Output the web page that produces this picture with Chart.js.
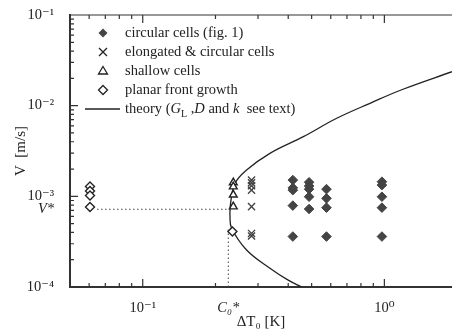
<!DOCTYPE html>
<html lang="en">
<head>
<meta charset="UTF-8">
<title>Stability V vs dT0</title>
<script src="https://cdn.jsdelivr.net/npm/chart.js"></script>
<style>
    body{margin:0;background:#fff;}
    .plot{position:relative;width:452px;height:334px;}
</style>
</head>
<body>
<div class="plot"><canvas id="stability" width="452" height="334"></canvas></div>
<script>
// (dT0 in K, V in m/s)
const circularDT = [0.418,0.418,0.418,0.418,0.418, 0.488,0.488,0.488,0.488,0.488, 0.576,0.576,0.576,0.576, 0.977,0.977,0.977,0.977,0.977];
const circularV  = [1.51e-3,1.24e-3,1.17e-3,7.9e-4,3.6e-4, 1.43e-3,1.3e-3,1.2e-3,9.9e-4,7.25e-4, 1.2e-3,9.5e-4,7.5e-4,3.6e-4, 1.45e-3,1.33e-3,9.9e-4,7.5e-4,3.6e-4];
const elongDT = [0.282,0.282,0.282,0.282,0.282,0.282,0.282];
const elongV  = [1.51e-3,1.41e-3,1.31e-3,1.17e-3,7.7e-4,3.9e-4,3.65e-4];
const shallowDT = [0.237,0.237,0.237,0.237];
const shallowV  = [1.42e-3,1.28e-3,1.04e-3,7.7e-4];
const planarDT = [0.0605,0.0605,0.0605,0.0605,0.235];
const planarV  = [1.285e-3,1.145e-3,1.02e-3,7.62e-4,4.1e-4];
const theoryDT = [1.905,1.194,0.872,0.635,0.462,0.336,0.269,0.241,0.231,0.2297,0.2333,0.269,0.336,0.400,0.455];
const theoryV  = [0.0237,0.01517,0.01062,0.00726,0.00455,0.00298,0.00195,0.00139,8.4e-4,5.96e-4,4.44e-4,2.56e-4,1.61e-4,1.19e-4,1.0e-4];

const Vstar = 7.2e-4;
const C0star = 0.226;
const xTickValues = [0.1, C0star, 1];
const xTickLabels = ['10\u207B\u00B9', 'C\u2080*', '10\u2070'];
const yTickValues = [1e-4, Vstar, 1e-3, 1e-2, 1e-1];
const yTickLabels = ['10\u207B\u2074', 'V*', '10\u207B\u00B3', '10\u207B\u00B2', '10\u207B\u00B9'];
const legendLabels = ['circular cells (fig. 1)', 'elongated & circular cells', 'shallow cells', 'planar front growth'];

const pts = (xs, ys) => xs.map((x, i) => ({x: x, y: ys[i]}));
const ink = '#222';
const serif = '"Liberation Serif", "DejaVu Serif", serif';

// inward log ticks + top frame
const logTicks = {
    id: 'logTicks',
    afterDatasetsDraw(chart) {
        const ctx = chart.ctx, a = chart.chartArea;
        const xs = chart.scales.x, ys = chart.scales.y;
        ctx.save();
        ctx.strokeStyle = '#333';
        ctx.lineWidth = 1.2;
        ctx.beginPath();
        ctx.moveTo(a.left, a.top); ctx.lineTo(a.right, a.top);
        for (let n = -2; n <= 0; n++) {
            for (let k = 1; k <= 9; k++) {
                const v = k * Math.pow(10, n);
                if (v < xs.min || v > xs.max) continue;
                const px = xs.getPixelForValue(v), len = k === 1 ? 8 : 4;
                ctx.moveTo(px, a.bottom); ctx.lineTo(px, a.bottom - len);
                ctx.moveTo(px, a.top); ctx.lineTo(px, a.top + len);
            }
        }
        for (let n = -4; n <= -1; n++) {
            for (let k = 1; k <= 9; k++) {
                const v = k * Math.pow(10, n);
                if (v < ys.min || v > ys.max) continue;
                const py = ys.getPixelForValue(v), len = k === 1 ? 8 : 4;
                ctx.moveTo(a.left, py); ctx.lineTo(a.left + len, py);
            }
        }
        ctx.stroke();
        ctx.restore();
    }
};

function marker(ctx, style, x, y) {
    ctx.beginPath();
    if (style === 'filled' || style === 'open') {
        ctx.moveTo(x, y - 4.5); ctx.lineTo(x + 4.5, y); ctx.lineTo(x, y + 4.5); ctx.lineTo(x - 4.5, y); ctx.closePath();
        if (style === 'filled') { ctx.fillStyle = '#444'; ctx.fill(); } else { ctx.fillStyle = '#fff'; ctx.fill(); ctx.stroke(); }
    } else if (style === 'cross') {
        ctx.moveTo(x - 4, y - 4); ctx.lineTo(x + 4, y + 4); ctx.moveTo(x + 4, y - 4); ctx.lineTo(x - 4, y + 4);
        ctx.stroke();
    } else {
        ctx.moveTo(x, y - 4.5); ctx.lineTo(x + 4.5, y + 3); ctx.lineTo(x - 4.5, y + 3); ctx.closePath();
        ctx.stroke();
    }
}

const legendBox = {
    id: 'legendBox',
    afterDraw(chart) {
        const ctx = chart.ctx, a = chart.chartArea;
        const styles = ['filled', 'cross', 'triangle', 'open'];
        ctx.save();
        ctx.strokeStyle = ink;
        ctx.lineWidth = 1.3;
        ctx.fillStyle = ink;
        ctx.textBaseline = 'middle';
        ctx.font = '14.5px ' + serif;
        for (let i = 0; i < legendLabels.length; i++) {
            const y = a.top + 18 + i * 19;
            marker(ctx, styles[i], a.left + 33, y);
            ctx.fillStyle = ink;
            ctx.fillText(legendLabels[i], a.left + 55, y);
        }
        const y = a.top + 94;
        ctx.beginPath(); ctx.moveTo(a.left + 15, y); ctx.lineTo(a.left + 50, y); ctx.stroke();
        const parts = [['theory (', 'normal', 0], ['G', 'italic', 0], ['L', 'normal', 5], [' ,', 'normal', 0], ['D', 'italic', 0],
            [' and ', 'normal', 0], ['k', 'italic', 0], ['  see text)', 'normal', 0]];
        let x = a.left + 55;
        for (const [t, st, dy] of parts) {
            ctx.font = st + ' ' + (dy ? '10px ' : '14.5px ') + serif;
            ctx.fillText(t, x, y + dy);
            x += ctx.measureText(t).width;
        }
        ctx.restore();
    }
};

const tickFont = (c) => ({
    family: serif,
    size: 14.5,
    style: (c.tick && (c.tick.value === Vstar || c.tick.value === C0star)) ? 'italic' : 'normal'
});

new Chart(document.getElementById('stability'), {
    type: 'scatter',
    data: {
        datasets: [
            {label: legendLabels[0], data: pts(circularDT, circularV), pointStyle: 'rectRot', pointRadius: 4.8,
                backgroundColor: '#444', borderColor: '#444', borderWidth: 1},
            {label: legendLabels[1], data: pts(elongDT, elongV), pointStyle: 'crossRot', pointRadius: 5,
                borderColor: '#444', borderWidth: 1.4},
            {label: legendLabels[2], data: pts(shallowDT, shallowV), pointStyle: 'triangle', pointRadius: 4.5,
                backgroundColor: '#fff', borderColor: ink, borderWidth: 1.4},
            {label: legendLabels[3], data: pts(planarDT, planarV), pointStyle: 'rectRot', pointRadius: 4.5,
                backgroundColor: '#fff', borderColor: ink, borderWidth: 1.4},
            {label: 'theory', data: pts(theoryDT, theoryV), showLine: true, pointRadius: 0, tension: 0.4,
                borderColor: ink, borderWidth: 1.3},
            {label: 'V*', data: pts([0.0647, C0star], [Vstar, Vstar]), showLine: true, pointRadius: 0,
                borderColor: '#444', borderWidth: 1, borderDash: [1.5, 2.5]},
            {label: 'C0*', data: pts([C0star, C0star], [1e-4, 4.3e-4]), showLine: true, pointRadius: 0,
                borderColor: '#444', borderWidth: 1, borderDash: [1.5, 2.5]}
        ]
    },
    options: {
        responsive: false,
        animation: false,
        layout: {autoPadding: false, padding: {top: 15, right: 0, left: 0, bottom: 0}},
        plugins: {legend: {display: false}, tooltip: {enabled: false}},
        scales: {
            x: {
                type: 'logarithmic', min: 0.05, max: 1.905,
                border: {color: '#333', width: 2},
                grid: {display: false},
                afterBuildTicks: (s) => { s.ticks = xTickValues.map(v => ({value: v})); },
                afterFit: (s) => { s.height = 47; s.paddingLeft = 0; s.paddingRight = 0; },
                ticks: {autoSkip: false, maxRotation: 0, padding: 4, color: ink, font: tickFont,
                    callback: (v) => xTickLabels[xTickValues.indexOf(v)]},
                title: {display: true, text: '\u0394T\u2080 [K]', color: ink, font: {family: serif, size: 15},
                    padding: {top: 0, bottom: 3}}
            },
            y: {
                type: 'logarithmic', min: 1e-4, max: 1e-1,
                border: {color: '#333', width: 2},
                grid: {display: false},
                afterBuildTicks: (s) => { s.ticks = yTickValues.map(v => ({value: v})); },
                afterFit: (s) => { s.width = 70; s.paddingTop = 0; s.paddingBottom = 0; },
                ticks: {autoSkip: false, padding: 8, color: ink, font: tickFont,
                    callback: (v) => yTickLabels[yTickValues.indexOf(v)]},
                title: {display: true, text: 'V  [m/s]', color: ink, font: {family: serif, size: 15},
                    padding: {top: 12, bottom: 0}}
            }
        }
    },
    plugins: [logTicks, legendBox]
});
</script>
</body>
</html>
